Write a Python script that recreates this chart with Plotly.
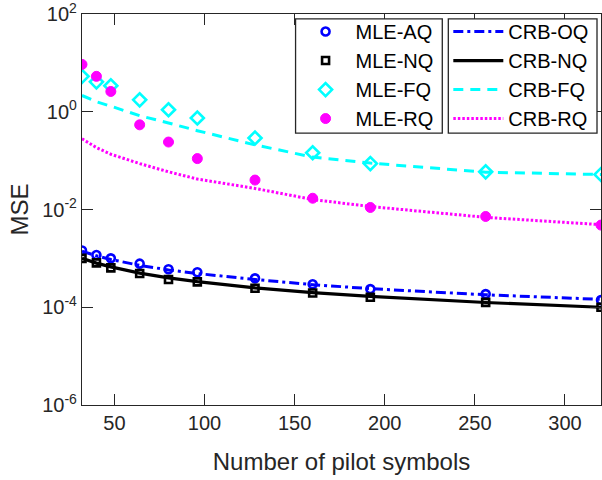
import plotly.graph_objects as go

# ---- data ----
pilots = [32, 40, 48, 64, 80, 96, 128, 160, 192, 256, 320]

mle_aq = [1.45e-3, 1.17e-3, 1.0e-3, 7.8e-4, 6.0e-4, 5.2e-4, 3.9e-4, 2.95e-4, 2.35e-4, 1.86e-4, 1.4e-4]
mle_nq = [1.0e-3, 8.1e-4, 6.4e-4, 4.9e-4, 3.7e-4, 3.3e-4, 2.45e-4, 1.95e-4, 1.6e-4, 1.26e-4, 1.0e-4]
mle_fq = [5.3, 4.1, 3.4, 1.75, 1.1, 0.745, 0.29, 0.145, 0.087, 0.059, 0.052]
mle_rq = [9.3, 5.3, 2.6, 0.54, 0.24, 0.11, 0.04, 0.017, 0.011, 0.0072, 0.0048]

crb_oq = [1.4e-3, 1.13e-3, 9.5e-4, 7.2e-4, 5.8e-4, 4.9e-4, 3.7e-4, 2.9e-4, 2.4e-4, 1.8e-4, 1.45e-4]
crb_nq = [1.0e-3, 8.0e-4, 6.7e-4, 5.0e-4, 4.0e-4, 3.35e-4, 2.5e-4, 2.0e-4, 1.67e-4, 1.25e-4, 1.0e-4]
crb_fq = [2.15, 1.6, 1.3, 0.83, 0.59, 0.41, 0.21, 0.118, 0.089, 0.058, 0.052]
crb_rq = [0.28, 0.185, 0.135, 0.087, 0.059, 0.042, 0.027, 0.016, 0.0115, 0.0069, 0.0049]

x_ticks = [50, 100, 150, 200, 250, 300]
y_ticks = [1e-6, 1e-4, 1e-2, 1e0, 1e2]
y_ticktext = ["10<sup>-6</sup>", "10<sup>-4</sup>", "10<sup>-2</sup>", "10<sup>0</sup>", "10<sup>2</sup>"]

x_title = "Number of pilot symbols"
y_title = "MSE"

# ---- styles ----
FONT = "Liberation Sans, Arial, Helvetica, sans-serif"
AX = "#262626"
BLUE, BLACK, CYAN, MAG = "#0000FF", "#000000", "#00FFFF", "#FF00FF"

fig = go.Figure()

# CRB lines (drawn first, under markers)
fig.add_trace(go.Scatter(x=pilots, y=crb_oq, mode="lines", name="CRB-OQ", legend="legend2",
                         line=dict(color=BLUE, width=3, dash="10px,4px,3px,4px")))
fig.add_trace(go.Scatter(x=pilots, y=crb_nq, mode="lines", name="CRB-NQ", legend="legend2",
                         line=dict(color=BLACK, width=3.2)))
fig.add_trace(go.Scatter(x=pilots, y=crb_fq, mode="lines", name="CRB-FQ", legend="legend2",
                         line=dict(color=CYAN, width=3, dash="10px,7px")))
fig.add_trace(go.Scatter(x=pilots, y=crb_rq, mode="lines", name="CRB-RQ", legend="legend2",
                         line=dict(color=MAG, width=3, dash="2.5px,2px")))

# MLE markers
fig.add_trace(go.Scatter(x=pilots, y=mle_aq, mode="markers", name="MLE-AQ", legend="legend",
                         marker=dict(symbol="circle-open", size=8, color=BLUE, line=dict(width=2.6, color=BLUE))))
fig.add_trace(go.Scatter(x=pilots, y=mle_nq, mode="markers", name="MLE-NQ", legend="legend",
                         marker=dict(symbol="square-open", size=7, color=BLACK, line=dict(width=2.6, color=BLACK))))
fig.add_trace(go.Scatter(x=pilots, y=mle_fq, mode="markers", name="MLE-FQ", legend="legend",
                         marker=dict(symbol="diamond-open", size=10, color=CYAN, line=dict(width=2.6, color=CYAN))))
fig.add_trace(go.Scatter(x=pilots, y=mle_rq, mode="markers", name="MLE-RQ", legend="legend",
                         marker=dict(symbol="circle", size=10, color=MAG, line=dict(width=1, color=MAG))))

legend_style = dict(
    bgcolor="rgba(0,0,0,0)", borderwidth=0, itemwidth=50,
    font=dict(family=FONT, size=20, color="black"),
    xanchor="left", yanchor="top", traceorder="normal",
)

# legend frames (paper coordinates)
box_style = dict(type="rect", xref="paper", yref="paper", layer="above",
                 fillcolor="white", line=dict(color=AX, width=1.3))
shapes = [
    dict(x0=0.4115, x1=0.6942, y0=0.6954, y1=0.9873, **box_style),
    dict(x0=0.7058, x1=0.9923, y0=0.6954, y1=0.9873, **box_style),
]

fig.update_layout(
    width=602, height=480,
    margin=dict(l=82, r=0, t=11, b=75),
    paper_bgcolor="white", plot_bgcolor="white",
    font=dict(family=FONT, color=AX),
    legend=dict(x=0.4115, y=1.005, **legend_style),
    legend2=dict(x=0.7058, y=1.005, **legend_style),
    showlegend=True,
    shapes=shapes,
)

fig.update_xaxes(
    range=[32, 320], tickvals=x_ticks, ticks="inside", ticklen=11, tickwidth=1.3, tickcolor=AX,
    showline=True, linecolor=AX, linewidth=1.3, mirror="ticks", showgrid=False, zeroline=False,
    tickfont=dict(family=FONT, size=20, color=AX), ticklabeloverflow="allow",
    title=dict(text=x_title, font=dict(family=FONT, size=24, color=AX), standoff=20),
)
fig.update_yaxes(
    type="log", range=[-6, 2], tickvals=y_ticks, ticktext=y_ticktext,
    ticks="inside", ticklen=11, tickwidth=1.3, tickcolor=AX,
    showline=True, linecolor=AX, linewidth=1.3, mirror="ticks", showgrid=False, zeroline=False,
    tickfont=dict(family=FONT, size=20, color=AX), ticklabeloverflow="allow",
    title=dict(text=y_title, font=dict(family=FONT, size=24, color=AX), standoff=6),
)

fig.write_html("out.html")
